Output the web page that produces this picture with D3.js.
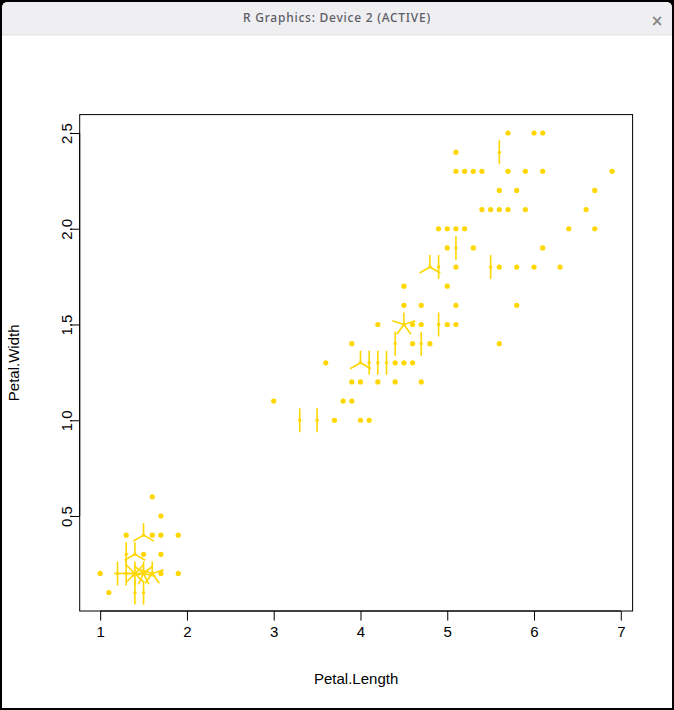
<!DOCTYPE html>
<html>
<head>
<meta charset="utf-8">
<script src="https://cdn.jsdelivr.net/npm/d3@7"></script>
<style>
html,body{margin:0;padding:0;background:#fff;}
svg{display:block;}
</style>
</head>
<body>
<svg id="chart" width="674" height="710"></svg>
<script>
// iris Petal.Length / Petal.Width (150 observations)
const petalLength = [
1.4,1.4,1.3,1.5,1.4,1.7,1.4,1.5,1.4,1.5,1.5,1.6,1.4,1.1,1.2,1.5,1.3,1.4,1.7,1.5,
1.7,1.5,1.0,1.7,1.9,1.6,1.6,1.5,1.4,1.6,1.6,1.5,1.5,1.4,1.5,1.2,1.3,1.4,1.3,1.5,
1.3,1.3,1.3,1.6,1.9,1.4,1.6,1.4,1.5,1.4,
4.7,4.5,4.9,4.0,4.6,4.5,4.7,3.3,4.6,3.9,3.5,4.2,4.0,4.7,3.6,4.4,4.5,4.1,4.5,3.9,
4.8,4.0,4.9,4.7,4.3,4.4,4.8,5.0,4.5,3.5,3.8,3.7,3.9,5.1,4.5,4.5,4.7,4.4,4.1,4.0,
4.4,4.6,4.0,3.3,4.2,4.2,4.2,4.3,3.0,4.1,
6.0,5.1,5.9,5.6,5.8,6.6,4.5,6.3,5.8,6.1,5.1,5.3,5.5,5.0,5.1,5.3,5.5,6.7,6.9,5.0,
5.7,4.9,6.7,4.9,5.7,6.0,4.8,4.9,5.6,5.8,6.1,6.4,5.6,5.1,5.6,6.1,5.6,5.5,4.8,5.4,
5.6,5.1,5.1,5.9,5.7,5.2,5.0,5.2,5.4,5.1];
const petalWidth = [
0.2,0.2,0.2,0.2,0.2,0.4,0.3,0.2,0.2,0.1,0.2,0.2,0.1,0.1,0.2,0.4,0.4,0.3,0.3,0.3,
0.2,0.4,0.2,0.5,0.2,0.2,0.4,0.2,0.2,0.2,0.2,0.4,0.1,0.2,0.2,0.2,0.2,0.1,0.2,0.2,
0.3,0.3,0.2,0.6,0.4,0.3,0.2,0.2,0.2,0.2,
1.4,1.5,1.5,1.3,1.5,1.3,1.6,1.0,1.3,1.4,1.0,1.5,1.0,1.4,1.3,1.4,1.5,1.0,1.5,1.1,
1.8,1.3,1.5,1.2,1.3,1.4,1.4,1.7,1.5,1.0,1.1,1.0,1.2,1.6,1.5,1.6,1.5,1.3,1.3,1.3,
1.2,1.4,1.2,1.0,1.3,1.2,1.3,1.3,1.1,1.3,
2.5,1.9,2.1,1.8,2.2,2.1,1.7,1.8,1.8,2.5,2.0,1.9,2.1,2.0,2.4,2.3,1.8,2.2,2.3,1.5,
2.3,2.0,2.0,1.8,2.1,1.8,1.8,1.8,2.1,1.6,1.9,2.0,2.2,1.5,1.4,2.3,2.4,1.8,1.8,2.1,
2.4,2.3,1.9,2.3,2.5,2.3,1.9,2.0,2.3,1.8];
const xTicks = [1,2,3,4,5,6,7];
const yTicks = [0.5,1.0,1.5,2.0,2.5];
const xLabel = "Petal.Length";
const yLabel = "Petal.Width";
const windowTitle = "R Graphics: Device 2 (ACTIVE)";

const svg = d3.select("#chart");
const FONT = "'Liberation Sans', Arial, Helvetica, sans-serif";
const COL = "#FFD700";

// window frame
svg.append("rect").attr("x",0).attr("y",0).attr("width",674).attr("height",710).attr("fill","#000");
svg.append("path")
  .attr("d","M2,8 Q2,2 8,2 L666,2 Q672,2 672,8 L672,708 L2,708 Z")
  .attr("fill","#fff");
svg.append("path")
  .attr("d","M2,8 Q2,2 8,2 L666,2 Q672,2 672,8 L672,34 L2,34 Z")
  .attr("fill","#efeff2");
svg.append("rect").attr("x",2).attr("y",34).attr("width",670).attr("height",1.5).attr("fill","#e4e4e8");
svg.append("text").attr("x",337).attr("y",22).attr("text-anchor","middle")
  .attr("font-family","'Noto Sans', 'Open Sans', sans-serif").attr("font-size",12).attr("font-weight",500)
  .attr("letter-spacing","0.75px")
  .attr("fill","#5c5c66").text(windowTitle);
svg.append("text").attr("x",657).attr("y",26).attr("text-anchor","middle")
  .attr("font-family","'DejaVu Sans', sans-serif").attr("font-size",15).attr("font-weight","bold")
  .attr("fill","#888").text("\u00D7");

// plot region (R default margins)
const L = 79.7, R = 632.6, T = 114.6, B = 611;
const xExt = d3.extent(petalLength), yExt = d3.extent(petalWidth);
const xPad = (xExt[1]-xExt[0])*0.04, yPad = (yExt[1]-yExt[0])*0.04;
const x = d3.scaleLinear().domain([xExt[0]-xPad, xExt[1]+xPad]).range([L, R]);
const y = d3.scaleLinear().domain([yExt[0]-yPad, yExt[1]+yPad]).range([B, T]);

// box
svg.append("rect").attr("x",L).attr("y",T).attr("width",R-L).attr("height",B-T)
  .attr("fill","none").attr("stroke","#000").attr("stroke-width",1);

// axes
const xAxis = d3.axisBottom(x).tickValues(xTicks).tickFormat(d3.format("d")).tickSize(9.6).tickPadding(6);
const gx = svg.append("g").attr("transform",`translate(0,${B})`).call(xAxis);
gx.select(".domain").attr("d", `M${x(xTicks[0])},0H${x(xTicks[xTicks.length-1])}`).attr("stroke","#000");
gx.selectAll(".tick line").attr("stroke","#000");
gx.selectAll(".tick text").attr("font-family",FONT).attr("font-size",15).attr("fill","#000");

const yAxis = d3.axisLeft(y).tickValues(yTicks).tickFormat(d3.format(".1f")).tickSize(9.6).tickPadding(0);
const gy = svg.append("g").attr("transform",`translate(${L},0)`).call(yAxis);
gy.select(".domain").attr("d", `M0,${y(yTicks[0])}V${y(yTicks[yTicks.length-1])}`).attr("stroke","#000");
gy.selectAll(".tick line").attr("stroke","#000");
gy.selectAll(".tick text").attr("font-family",FONT).attr("font-size",15).attr("fill","#000")
  .attr("text-anchor","middle").attr("dy",null).attr("x",null)
  .attr("transform","translate(-8,0) rotate(-90)");

// axis titles
svg.append("text").attr("x",(L+R)/2).attr("y",684).attr("text-anchor","middle")
  .attr("font-family",FONT).attr("font-size",15).attr("fill","#000").text(xLabel);
svg.append("text").attr("transform",`translate(19,${(T+B)/2}) rotate(-90)`).attr("text-anchor","middle")
  .attr("font-family",FONT).attr("font-size",15).attr("fill","#000").text(yLabel);

// sunflower counts
const pts = d3.rollups(d3.range(petalLength.length), v => v.length,
  i => petalLength[i] + "|" + petalWidth[i])
  .map(([k, n]) => { const [a,b] = k.split("|").map(Number); return {px:a, py:b, n}; });

const petalLen = 12;
const g = svg.append("g");
pts.filter(d => d.n > 1).forEach(d => {
  for (let k = 0; k < d.n; k++) {
    const th = 2*Math.PI*k/d.n;
    g.append("line")
      .attr("x1", x(d.px)).attr("y1", y(d.py))
      .attr("x2", x(d.px) + petalLen*Math.sin(th))
      .attr("y2", y(d.py) - petalLen*Math.cos(th))
      .attr("stroke", COL).attr("stroke-width", 1.6);
  }
});
g.selectAll("circle").data(pts).join("circle")
  .attr("cx", d => x(d.px)).attr("cy", d => y(d.py))
  .attr("r", d => d.n === 1 ? 2.6 : 1.7)
  .attr("fill", COL);
</script>
</body>
</html>
